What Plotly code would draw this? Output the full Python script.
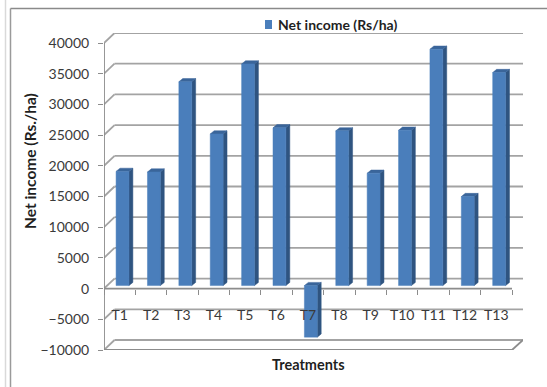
import plotly.graph_objects as go

# Net income per treatment
treatments = ["T1", "T2", "T3", "T4", "T5", "T6", "T7", "T8", "T9", "T10", "T11", "T12", "T13"]
net_income = [18600, 18500, 33200, 24700, 36100, 25700, -8400, 25200, 18300, 25300, 38500, 14500, 34700]
y_ticks = [-10000, -5000, 0, 5000, 10000, 15000, 20000, 25000, 30000, 35000, 40000]
series_name = "Net income (Rs/ha)"

W, H = 547, 387
LEFT, RIGHT, TOP, BOTTOM = 104, 523, 33, 350
X_MAX = 13.35
Y_MIN, Y_MAX = -10000, 41630

# Fake-perspective offsets, in axis units
WALL_DX, WALL_DY = 0.335, 1630
BAR_SHIFT_Y = 490
BAR_DX, BAR_DY = 0.125, 520
BAR_W = 0.41

FRONT = "#4A7EBB"
SIDE = "#2F5480"
CAP = "#3A659A"
GRID = "#A3A3A3"
AXIS = "#8C8C8C"
TEXT = "#3A3A3A"
DARK = "#1F1F1F"
FONT = "Lato"


def line(x0, y0, x1, y1, color=GRID, width=1.8):
    return dict(type="line", xref="x", yref="y", x0=x0, y0=y0, x1=x1, y1=y1,
                layer="below", line=dict(color=color, width=width))


def frame(x0, y0, x1, y1, color, width=1.5):
    return dict(type="line", xref="paper", yref="paper",
                x0=x0 / W, x1=x1 / W, y0=1 - y0 / H, y1=1 - y1 / H,
                layer="above", line=dict(color=color, width=width))


shapes = [
    frame(5.5, 0, 5.5, H, "#D9D9D9"),
    frame(10.5, 8.5, 10.5, H, "#9A9A9A"),
    frame(10.5, 8.5, W, 8.5, "#8A8A8A"),
    # legend key
    dict(type="rect", xref="paper", yref="paper", x0=265 / W, x1=272 / W,
         y0=1 - 29 / H, y1=1 - 20 / H, layer="above", fillcolor=FRONT, line=dict(width=0)),
]

# Back wall and side wall grid
for t in y_ticks:
    shapes.append(line(WALL_DX, t + WALL_DY, X_MAX, t + WALL_DY))
    shapes.append(line(0, t, WALL_DX, t + WALL_DY))

# Floor edges and front axes
shapes += [
    line(0, Y_MIN, 13, Y_MIN, AXIS),
    line(13, Y_MIN, X_MAX, Y_MIN + WALL_DY, AXIS),
    line(0, Y_MIN, 0, 40000, AXIS),
    line(0, 0, 13, 0, AXIS),
]

fig = go.Figure()

# Extruded side and cap of every column
for i, v in enumerate(net_income):
    x0 = i + 0.59 - BAR_W / 2
    x1 = x0 + BAR_W
    base = BAR_SHIFT_Y
    end = base + v
    top = max(base, end)
    fig.add_trace(go.Scatter(
        x=[x1, x1 + BAR_DX, x1 + BAR_DX, x1, x1],
        y=[base, base + BAR_DY, end + BAR_DY, end, base],
        mode="lines", fill="toself", fillcolor=SIDE, line=dict(color=SIDE, width=0.5),
        showlegend=False, hoverinfo="skip"))
    fig.add_trace(go.Scatter(
        x=[x0, x0 + BAR_DX, x1 + BAR_DX, x1, x0],
        y=[top, top + BAR_DY, top + BAR_DY, top, top],
        mode="lines", fill="toself", fillcolor=CAP, line=dict(color=CAP, width=0.5),
        showlegend=False, hoverinfo="skip"))

# Front faces, as filled outlines so they share a layer with the extrusions
for i, v in enumerate(net_income):
    x0 = i + 0.59 - BAR_W / 2
    x1 = x0 + BAR_W
    base = BAR_SHIFT_Y
    fig.add_trace(go.Scatter(
        x=[x0, x1, x1, x0, x0],
        y=[base, base, base + v, base + v, base],
        mode="lines", fill="toself", fillcolor=FRONT, line=dict(color=FRONT, width=0.5),
        name=series_name, showlegend=False,
        hovertext=f"{treatments[i]}: {v}", hoverinfo="text"))

# Category labels sit on the lower wall, over the columns
fig.add_trace(go.Scatter(
    x=[i + 0.5 for i in range(len(treatments))], y=[-4610] * len(treatments),
    text=treatments, mode="text", textposition="middle center",
    textfont=dict(family=FONT, size=14, color=TEXT), showlegend=False, hoverinfo="skip"))

annotations = [
    dict(text=series_name, xref="paper", yref="paper", x=276 / W, y=1 - 25 / H,
         xanchor="left", yanchor="middle", showarrow=False,
         font=dict(family=FONT, size=14, color=DARK, weight="bold")),
    dict(text="Treatments", xref="paper", yref="paper", x=308 / W, y=1 - 364 / H,
         xanchor="center", yanchor="middle", showarrow=False,
         font=dict(family=FONT, size=14.5, color=DARK, weight="bold")),
    dict(text="Net income (Rs./ha)", xref="paper", yref="paper", x=30 / W, y=1 - 161 / H,
         xanchor="center", yanchor="middle", textangle=-90, showarrow=False,
         font=dict(family=FONT, size=15.5, color=DARK, weight="bold")),
]

fig.update_layout(
    width=W, height=H, autosize=False,
    margin=dict(l=0, r=0, t=0, b=0),
    paper_bgcolor="white", plot_bgcolor="white",
    font=dict(family=FONT, color=TEXT, size=14),
    shapes=shapes, annotations=annotations,
    showlegend=False,
    xaxis=dict(
        domain=[LEFT / W, RIGHT / W], range=[0, X_MAX],
        anchor="free", position=(1 - BOTTOM / H) + (BOTTOM - TOP) * 10000 / (Y_MAX - Y_MIN) / H,
        tickvals=list(range(14)), showticklabels=False, ticks="outside", ticklen=5,
        tickcolor=AXIS, tickwidth=1.3, showgrid=False, zeroline=False, showline=False,
        automargin=False,
    ),
    yaxis=dict(
        domain=[1 - BOTTOM / H, 1 - TOP / H], range=[Y_MIN, Y_MAX],
        tickvals=y_ticks, tickformat="d", ticks="outside", ticklen=5, tickcolor=AXIS,
        tickwidth=1.3, ticklabelstandoff=6, showgrid=False, zeroline=False, showline=False,
        tickfont=dict(family=FONT, size=14, color=TEXT), automargin=False,
    ),
)

fig.write_html("out.html")
